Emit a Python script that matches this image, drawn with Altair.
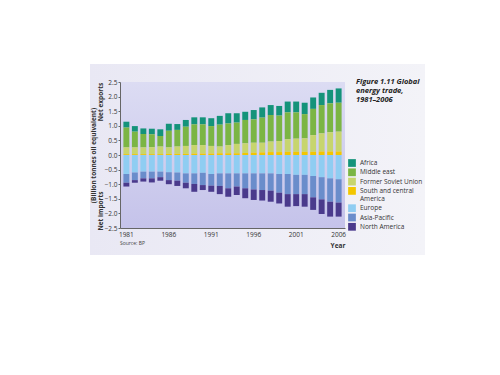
import altair as alt
import pandas as pd

years = list(range(1981, 2007))

africa = [0.20, 0.19, 0.19, 0.19, 0.23, 0.24, 0.20, 0.23, 0.24, 0.24, 0.27, 0.30, 0.35,
          0.32, 0.28, 0.32, 0.35, 0.34, 0.33, 0.37, 0.37, 0.39, 0.39, 0.42, 0.46, 0.49]
middle_east = [0.68, 0.54, 0.46, 0.44, 0.36, 0.57, 0.57, 0.66, 0.71, 0.71, 0.68, 0.75, 0.74,
               0.73, 0.80, 0.80, 0.86, 0.91, 0.87, 0.92, 0.90, 0.83, 0.90, 0.97, 0.99, 0.99]
former_soviet = [0.23, 0.23, 0.23, 0.24, 0.26, 0.22, 0.25, 0.27, 0.29, 0.29, 0.26, 0.23, 0.28,
                 0.32, 0.33, 0.34, 0.33, 0.36, 0.38, 0.43, 0.45, 0.46, 0.57, 0.62, 0.66, 0.68]
sc_america = [0.03, 0.03, 0.03, 0.03, 0.03, 0.04, 0.04, 0.04, 0.05, 0.05, 0.05, 0.06, 0.06,
              0.06, 0.07, 0.08, 0.09, 0.10, 0.10, 0.11, 0.11, 0.11, 0.11, 0.12, 0.12, 0.12]
europe = [-0.65, -0.60, -0.57, -0.57, -0.57, -0.59, -0.60, -0.63, -0.63, -0.61, -0.65, -0.63, -0.63,
          -0.63, -0.63, -0.63, -0.63, -0.63, -0.65, -0.65, -0.68, -0.68, -0.72, -0.76, -0.80, -0.83]
asia_pacific = [-0.30, -0.26, -0.23, -0.23, -0.19, -0.27, -0.28, -0.32, -0.36, -0.42, -0.40, -0.43, -0.51,
                -0.45, -0.51, -0.55, -0.57, -0.59, -0.64, -0.69, -0.66, -0.66, -0.73, -0.76, -0.80, -0.80]
north_america = [-0.13, -0.09, -0.11, -0.14, -0.12, -0.14, -0.18, -0.19, -0.27, -0.17, -0.21, -0.28, -0.29,
                 -0.29, -0.34, -0.36, -0.36, -0.38, -0.37, -0.43, -0.41, -0.43, -0.43, -0.50, -0.51, -0.48]

regions = ["Africa", "Middle east", "Former Soviet Union", "South and central America",
           "Europe", "Asia-Pacific", "North America"]
colors = ["#14937a", "#7bb544", "#c7d56e", "#f3c600", "#8fcdf2", "#6a8dcb", "#4a3a8c"]
stack_rank = [4, 3, 2, 1, 1, 2, 3]
series = [africa, middle_east, former_soviet, sc_america, europe, asia_pacific, north_america]

x_ticks = [1981, 1986, 1991, 1996, 2001, 2006]
y_ticks = [-2.5, -2.0, -1.5, -1.0, -0.5, 0.0, 0.5, 1.0, 1.5, 2.0, 2.5]

rows = []
for name, rank, vals in zip(regions, stack_rank, series):
    for yr, v in zip(years, vals):
        rows.append({"year": yr, "region": name, "value": v, "rank": rank})
df = pd.DataFrame(rows)

W, H = 225, 146
FONT = "Open Sans"
one = pd.DataFrame({"a": [0]})

page_bg = alt.Chart(one).mark_rect(
    fill=alt.Gradient(
        gradient="linear",
        stops=[alt.GradientStop(color="#e9e8f4", offset=0),
               alt.GradientStop(color="#f3f3f8", offset=1)],
        x1=0, x2=1, y1=0, y2=0,
    )
).encode(x=alt.value(-30), x2=alt.value(305), y=alt.value(-18), y2=alt.value(173))

plot_bg = alt.Chart(one).mark_rect(
    fill=alt.Gradient(
        gradient="linear",
        stops=[alt.GradientStop(color="#dcdcf3", offset=0),
               alt.GradientStop(color="#c5c3ea", offset=1)],
        x1=0, x2=0, y1=0, y2=1,
    )
).encode(x=alt.value(0), x2=alt.value(W), y=alt.value(0), y2=alt.value(H))

bars = alt.Chart(df).mark_bar().encode(
    x=alt.X("year:O", scale=alt.Scale(paddingInner=0.3, paddingOuter=0.4),
            axis=alt.Axis(values=x_ticks, labelAngle=0, ticks=False, title=None,
                          labelFontSize=6.5, labelFont=FONT, labelColor="#333",
                          labelPadding=3, domainColor="#666", zindex=1)),
    y=alt.Y("value:Q", stack="zero",
            scale=alt.Scale(domain=[-2.5, 2.5], nice=False, zero=False),
            axis=alt.Axis(values=y_ticks, format=".1f", grid=False,
                          title="(Billion tonnes oil equivalent)",
                          titleFontSize=6.5, titleFont=FONT, titleFontWeight="bold",
                          titleColor="#333", titleX=-27, titleY=73, titleAngle=270,
                          titleAlign="center", titleBaseline="middle",
                          labelFontSize=6.5, labelFont=FONT, labelColor="#333",
                          tickSize=2, tickColor="#666", domainColor="#666",
                          labelPadding=1, zindex=1)),
    color=alt.Color("region:N",
                    scale=alt.Scale(domain=regions, range=colors),
                    legend=alt.Legend(
                        title=None, orient="none", legendX=228, legendY=77,
                        symbolType="square", symbolSize=60, symbolStrokeWidth=0,
                        labelFontSize=6.5, labelFont=FONT, labelColor="#333",
                        rowPadding=1.3, labelLimit=200,
                        labelExpr="datum.label == 'South and central America' ? ['South and central', 'America'] : datum.label",
                    )),
    order=alt.Order("rank:Q", sort="ascending"),
)

net_exports = alt.Chart(one).mark_text(
    text="Net exports", angle=270, fontSize=6.5, fontWeight="bold", font=FONT, color="#333"
).encode(x=alt.value(-19), y=alt.value(20))

net_imports = alt.Chart(one).mark_text(
    text="Net imports", angle=270, fontSize=6.5, fontWeight="bold", font=FONT, color="#333"
).encode(x=alt.value(-19), y=alt.value(129))

fig_title = alt.Chart(one).mark_text(
    text=["Figure 1.11 Global", "energy trade,", "1981\u20132006"],
    fontSize=7.5, fontStyle="italic", fontWeight="bold", font=FONT, color="#222",
    align="left", baseline="top", lineHeight=9,
).encode(x=alt.value(236), y=alt.value(-4))

source = alt.Chart(one).mark_text(
    text="Source: BP", fontSize=5, font=FONT, color="#444", align="left", baseline="middle"
).encode(x=alt.value(0), y=alt.value(161))

year_lbl = alt.Chart(one).mark_text(
    text="Year", fontSize=6.5, fontWeight="bold", font=FONT, color="#333",
    align="center", baseline="middle"
).encode(x=alt.value(218), y=alt.value(164))

chart = alt.layer(
    page_bg, plot_bg, bars, net_exports, net_imports, fig_title, source, year_lbl
).properties(
    width=W, height=H,
    autosize=alt.AutoSizeParams(type="none"),
    padding={"left": 120, "top": 82, "right": 155, "bottom": 147},
    background="white",
).configure_view(stroke=None)

chart.save("out.html", embed_options={"renderer": "svg", "actions": False})
